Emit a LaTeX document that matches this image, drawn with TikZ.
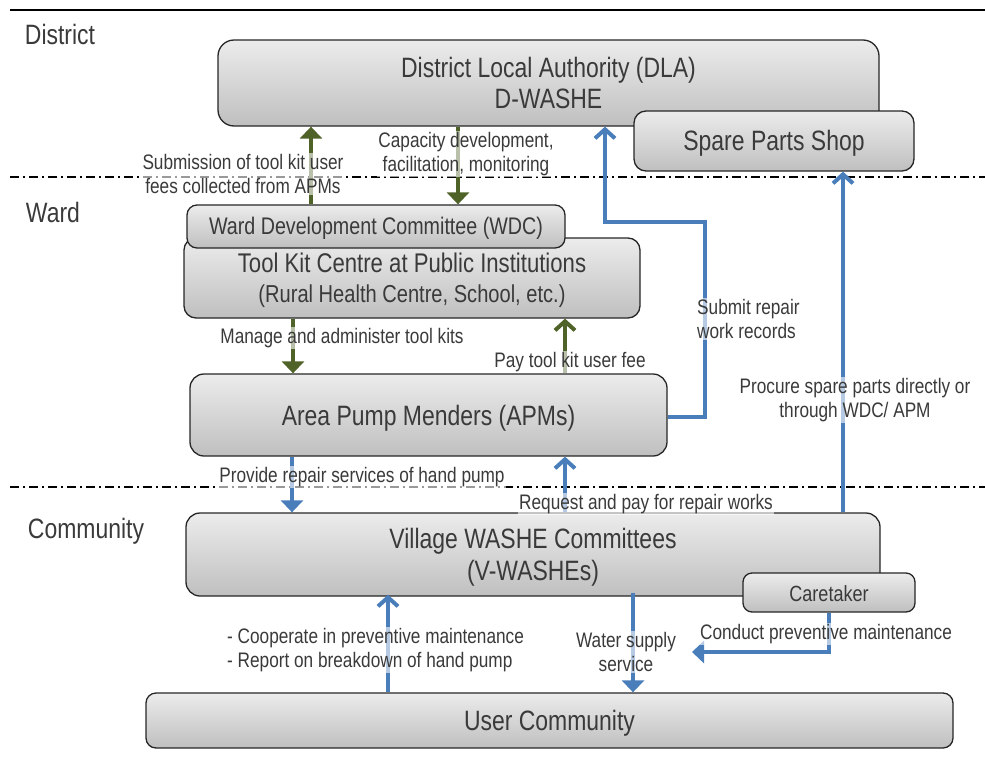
\documentclass[tikz,border=0pt]{standalone}
\usepackage{fontspec}
\setmainfont{Liberation Sans}[FakeStretch=0.82]
\usetikzlibrary{arrows.meta,calc}
\definecolor{bl}{HTML}{4A7EBB}
\definecolor{gr}{HTML}{4F6228}
\definecolor{tx}{HTML}{3A3A3A}
\newcommand{\dn}[2]{\raisebox{-#1}[\height][\depth]{#2}}
\begin{document}
\begin{tikzpicture}[x=1pt,y=-1pt,
  box/.style={draw=black!85,line width=1.3pt,rounded corners=12pt,top color=gray!15,bottom color=gray!50,
    text=tx,align=center,inner sep=0pt,font=\fontsize{28}{31}\selectfont},
  lvl/.style={text=tx,font=\fontsize{28}{31}\selectfont,inner sep=0pt},
  lab/.style={text=tx,fill=white,fill opacity=0.6,text opacity=1,inner sep=1pt,font=\fontsize{21}{24}\selectfont,align=center},
  garrow/.style={draw=gr,line width=4pt},
  barrow/.style={draw=bl,line width=4pt},
  tri/.style={-{Triangle[width=22pt,length=12pt]}},
  chev/.style={-{Straight Barb[length=9pt,width=20pt]}},
  sep/.style={line width=1.3pt,dash pattern=on 9pt off 4pt on 2pt off 4pt}]
\useasboundingbox (0,0) rectangle (985,758);
% level lines
\draw[line width=2.5pt] (10,10) coordinate (t0) -- (985,10) coordinate (t1);
\draw[sep] (10,177) coordinate (s0) -- (985,177) coordinate (s1);
\draw[sep] (10,487) coordinate (u0) -- (985,487) coordinate (u1);
\node[lvl] (ld) at (60,34) {District};
\node[lvl] (lw) at (53,212) {Ward};
\node[lvl] (lc) at (86,531) {Community};
% boxes
\node[box,minimum width=661,minimum height=86,rounded corners=16pt] (dla) at (548.5,83) {District Local Authority (DLA)\\D-WASHE};
\node[box,minimum width=280,minimum height=60] (spare) at (774,141) {\dn{2pt}{Spare Parts Shop}};
\node[box,minimum width=456,minimum height=80] (tk) at (412,278) {\dn{3pt}{\fontsize{27}{30}\selectfont Tool Kit Centre at Public Institutions}\\\dn{2pt}{\fontsize{24.5}{30}\selectfont (Rural Health Centre, School, etc.)}};
\node[box,minimum width=378,minimum height=43,rounded corners=10pt,font=\fontsize{24}{28}\selectfont] (wdc) at (376,226.5) {\dn{2pt}{Ward Development Committee (WDC)}};
\node[box,minimum width=477,minimum height=82,rounded corners=14pt] (apm) at (428.5,415) {\dn{3pt}{Area Pump Menders (APMs)}};
\node[box,minimum width=694,minimum height=83,rounded corners=14pt,font=\fontsize{28}{32}\selectfont] (vil) at (533,554.5) {\dn{3pt}{Village WASHE Committees}\\\dn{3pt}{(V-WASHEs)}};
\node[box,minimum width=172,minimum height=39,rounded corners=9pt,font=\fontsize{22}{26}\selectfont] (ct) at (829,592.5) {\dn{1pt}{Caretaker}};
\node[box,minimum width=807,minimum height=55,rounded corners=10pt] (uc) at (549.5,720.5) {\dn{3pt}{User Community}};
% x positions
\coordinate (xa) at (311,0);
\coordinate (xb) at (458,0);
\coordinate (xc) at (293,0);
\coordinate (xd) at (565,0);
\coordinate (xe) at (292,0);
\coordinate (xf) at (565,0);
\coordinate (xg) at (388,0);
\coordinate (xh) at (633,0);
\coordinate (xp) at (843,0);
\coordinate (r1) at (705,417);
\coordinate (r2) at (705,222);
\coordinate (r3) at (605,222);
\coordinate (c1) at (829,652);
\coordinate (c2) at (692,652);
% green arrows
\draw[garrow,tri] (wdc.north -| xa) -- (dla.south -| xa);
\draw[garrow,tri] (dla.south -| xb) -- (wdc.north -| xb);
\draw[garrow,tri] (tk.south -| xc) -- (apm.north -| xc);
\draw[garrow,chev] (apm.north -| xd) -- (tk.south -| xd);
% blue arrows
\draw[barrow,chev] (apm.east |- r1) -- (r1) -- (r2) -- (r3) -- (dla.south -| r3);
\draw[barrow,chev] (vil.north -| xp) -- (spare.south -| xp);
\draw[barrow,tri] (apm.south -| xe) -- (vil.north -| xe);
\draw[barrow,chev] (vil.north -| xf) -- (apm.south -| xf);
\draw[barrow,chev] (uc.north -| xg) -- ([yshift=2pt]vil.south -| xg);
\draw[barrow,tri] ([yshift=4pt]vil.south -| xh) -- (uc.north -| xh);
\draw[barrow,tri] (ct.south) -- (c1) -- (c2);
% labels
\node[lab] (l1) at (243,174) {Submission of tool kit user\\fees collected from APMs};
\node[lab] (l2) at (466,154) {Capacity development,\\facilitation, monitoring};
\node[lab] (l3) at (342,338) {Manage and administer tool kits};
\node[lab] (l4) at (570,362) {Pay tool kit user fee};
\node[lab,align=left,anchor=west] (l5) at (696,319) {Submit repair\\work records};
\node[lab] (l6) at (855,400) {Procure spare parts directly or\\through WDC/ APM};
\node[lab] (l7) at (362,477) {Provide repair services of hand pump};
\node[lab] (l8) at (646,504) {Request and pay for repair works};
\node[lab,align=left,anchor=west] (l9) at (226,650) {- Cooperate in preventive maintenance\\- Report on breakdown of hand pump};
\node[lab] (l10) at (626,652) {Water supply\\service};
\node[lab] (l11) at (826,634) {Conduct preventive maintenance};
\end{tikzpicture}
\end{document}
